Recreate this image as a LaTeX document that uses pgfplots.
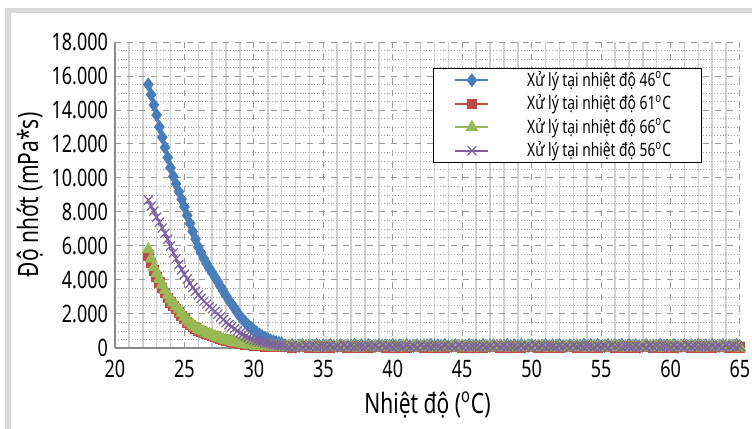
\documentclass[border=0pt]{standalone}
\usepackage{fontspec}
\setmainfont{Noto Sans}[FakeStretch=0.75]
\usepackage{pgfplots}
\usepackage{pgfplotstable}
\pgfplotsset{compat=1.18}

\definecolor{cBlue}{HTML}{4A7EBB}
\definecolor{cRed}{HTML}{BE4B48}
\definecolor{cGreen}{HTML}{98B954}
\definecolor{cPurple}{HTML}{7D60A0}
\definecolor{frameGrey}{HTML}{D9D9D9}

% T, 46C, 61C, 66C, 56C
\pgfplotstableread{
T    a     b     c     d
22.4 15500 5450 5800 8700
22.6 14900 5000 5250 8350
22.8 14300 4550 4750 8050
23.0 13700 4180 4380 7700
23.2 13000 3850 4050 7400
23.4 12400 3530 3720 7050
23.6 11800 3220 3400 6750
23.8 11200 2930 3100 6400
24.0 10600 2680 2850 6000
24.2 10100 2480 2650 5600
24.4 9650 2290 2460 5250
24.6 9200 2090 2260 4900
24.8 8750 1890 2050 4600
25.0 8300 1700 1840 4330
25.2 7800 1500 1620 4060
25.4 7330 1370 1480 3800
25.6 6850 1250 1350 3560
25.8 6400 1140 1230 3340
26.0 5950 1040 1110 3120
26.2 5600 960 1030 2920
26.4 5250 890 960 2750
26.6 4950 820 880 2590
26.8 4680 760 810 2440
27.0 4420 700 740 2300
27.2 4160 640 680 2150
27.4 3900 590 630 1990
27.6 3620 540 580 1830
27.8 3340 490 520 1670
28.0 3070 440 470 1500
28.2 2820 400 420 1370
28.4 2580 360 380 1250
28.6 2350 320 340 1130
28.8 2100 290 300 1000
29.0 1860 260 270 880
29.2 1680 230 240 790
29.4 1500 200 210 700
29.6 1330 180 190 620
29.8 1180 160 170 540
30.0 1040 145 150 470
30.2 920 130 135 420
30.4 800 115 120 370
30.6 690 105 110 330
30.8 600 95 100 290
31.0 520 90 95 260
31.2 450 85 90 230
31.4 390 80 85 200
31.6 340 75 80 180
31.8 300 70 80 160
32.0 260 70 75 140
32.25 150 60 40 90
32.5 110 100 90 50
32.75 170 30 60 130
33.0 90 80 20 70
33.25 130 120 100 110
33.5 160 50 70 30
33.75 100 90 30 150
34.0 140 20 110 80
34.25 120 70 50 120
34.5 180 110 80 60
34.75 95 40 10 100
35.0 150 60 40 90
35.25 110 100 90 50
35.5 170 30 60 130
35.75 90 80 20 70
36.0 130 120 100 110
36.25 160 50 70 30
36.5 100 90 30 150
36.75 140 20 110 80
37.0 120 70 50 120
37.25 180 110 80 60
37.5 95 40 10 100
37.75 150 60 40 90
38.0 110 100 90 50
38.25 170 30 60 130
38.5 90 80 20 70
38.75 130 120 100 110
39.0 160 50 70 30
39.25 100 90 30 150
39.5 140 20 110 80
39.75 120 70 50 120
40.0 180 110 80 60
40.25 95 40 10 100
40.5 150 60 40 90
40.75 110 100 90 50
41.0 170 30 60 130
41.25 90 80 20 70
41.5 130 120 100 110
41.75 160 50 70 30
42.0 100 90 30 150
42.25 140 20 110 80
42.5 120 70 50 120
42.75 180 110 80 60
43.0 95 40 10 100
43.25 150 60 40 90
43.5 110 100 90 50
43.75 170 30 60 130
44.0 90 80 20 70
44.25 130 120 100 110
44.5 160 50 70 30
44.75 100 90 30 150
45.0 140 20 110 80
45.25 120 70 50 120
45.5 180 110 80 60
45.75 95 40 10 100
46.0 150 60 40 90
46.25 110 100 90 50
46.5 170 30 60 130
46.75 90 80 20 70
47.0 130 120 100 110
47.25 160 50 70 30
47.5 100 90 30 150
47.75 140 20 110 80
48.0 120 70 50 120
48.25 180 110 80 60
48.5 95 40 10 100
48.75 150 60 40 90
49.0 110 100 90 50
49.25 170 30 60 130
49.5 90 80 20 70
49.75 130 120 100 110
50.0 160 50 70 30
50.25 100 90 30 150
50.5 140 20 110 80
50.75 120 70 50 120
51.0 180 110 80 60
51.25 95 40 10 100
51.5 150 60 40 90
51.75 110 100 90 50
52.0 170 30 60 130
52.25 90 80 20 70
52.5 130 120 100 110
52.75 160 50 70 30
53.0 100 90 30 150
53.25 140 20 110 80
53.5 120 70 50 120
53.75 180 110 80 60
54.0 95 40 10 100
54.25 150 60 40 90
54.5 110 100 90 50
54.75 170 30 60 130
55.0 90 80 20 70
55.25 130 120 100 110
55.5 160 50 70 30
55.75 100 90 30 150
56.0 140 20 110 80
56.25 120 70 50 120
56.5 180 110 80 60
56.75 95 40 10 100
57.0 150 60 40 90
57.25 110 100 90 50
57.5 170 30 60 130
57.75 90 80 20 70
58.0 130 120 100 110
58.25 160 50 70 30
58.5 100 90 30 150
58.75 140 20 110 80
59.0 120 70 50 120
59.25 180 110 80 60
59.5 95 40 10 100
59.75 150 60 40 90
60.0 110 100 90 50
60.25 170 30 60 130
60.5 90 80 20 70
60.75 130 120 100 110
61.0 160 50 70 30
61.25 100 90 30 150
61.5 140 20 110 80
61.75 120 70 50 120
62.0 180 110 80 60
62.25 95 40 10 100
62.5 150 60 40 90
62.75 110 100 90 50
63.0 170 30 60 130
63.25 90 80 20 70
63.5 130 120 100 110
63.75 160 50 70 30
64.0 100 90 30 150
64.25 140 20 110 80
64.5 120 70 50 120
64.75 180 110 80 60
65.0 95 40 10 100
}\viscdata

\newcommand{\legtxt}[1]{\hspace*{19pt}Xử lý tại nhiệt độ #1\textsuperscript{o}C\hspace*{4.5pt}}

\begin{document}
\begin{tikzpicture}
  \begin{axis}[
      at={(0pt,0pt)}, anchor=origin,
      scale only axis,
      width=312.5pt, height=153pt,
      xmin=20, xmax=65,
      ymin=0, ymax=18000,
      xtick={20,25,...,65},
      ytick={0,2000,...,18000},
      minor x tick num=4,
      minor y tick num=3,
      major tick length=0pt, minor tick length=0pt,
      axis x line*=bottom, axis y line*=left,
      axis line style={-, draw=black!45, line width=0.6pt},
      grid=both,
      major grid style={draw=black!40, dashed, line width=0.5pt},
      minor x grid style={draw=black!18, solid, line width=0.8pt},
      minor y grid style={draw=black!35, densely dotted, line width=0.4pt},
      scaled y ticks=false,
      /pgf/number format/assume math mode=true,
      yticklabel style={/pgf/number format/.cd, fixed, precision=0, 1000 sep={.}},
      xticklabel style={yshift=-2.5pt},
      tick label style={font=\fontsize{12}{14}\selectfont},
      label style={font=\fontsize{14}{16}\selectfont},
      xlabel={Nhiệt độ (\textsuperscript{o}C)},
      ylabel={Độ nhớt (mPa*s)},
      xlabel style={at={(axis description cs:0.5,-0.186)}, anchor=center},
      ylabel style={at={(axis description cs:-0.136,0.5)}, anchor=center},
      clip=false,
      legend cell align=left,
      legend style={at={(0.509,0.915)}, anchor=north west,
        draw=black, line width=0.5pt, fill=white,
        font=\fontsize{9.2}{11}\selectfont,
        inner xsep=10.5pt, inner ysep=0pt, row sep=0pt,
        nodes={inner xsep=0pt, inner ysep=0pt, minimum height=11.75pt}},
      legend image code/.code={
        \draw[#1, mark=none] (0pt,0pt) -- (16.5pt,0pt);
        \draw[#1, only marks] plot coordinates {(8.25pt,0pt)};
      },
    ]
    \addplot[cBlue, line width=0.8pt, mark=diamond*, mark size=2.9pt,
      mark options={fill=cBlue, draw=cBlue, solid}] table[x=T, y=a] {\viscdata};
    \addlegendentry{\legtxt{46}}
    \addplot[cRed, line width=0.8pt, mark=square*, mark size=2.2pt,
      mark options={fill=cRed, draw=cRed, solid}] table[x=T, y=b] {\viscdata};
    \addlegendentry{\legtxt{61}}
    \addplot[cGreen, line width=0.8pt, mark=triangle*, mark size=3pt,
      mark options={fill=cGreen, draw=cGreen, solid}] table[x=T, y=c] {\viscdata};
    \addlegendentry{\legtxt{66}}
    \addplot[cPurple, line width=0.8pt, mark=x, mark size=3.2pt,
      mark options={draw=cPurple, solid, line width=0.6pt}] table[x=T, y=d] {\viscdata};
    \addlegendentry{\legtxt{56}}
  \end{axis}
  \fill[frameGrey] (-55pt,-40.5pt) rectangle (-52pt,170pt);
  \fill[frameGrey] (-55pt,167.5pt) rectangle (318.5pt,170pt);
  \pgfresetboundingbox
  \path[use as bounding box] (-57.5pt,-40.5pt) rectangle (318.5pt,174pt);
\end{tikzpicture}
\end{document}
